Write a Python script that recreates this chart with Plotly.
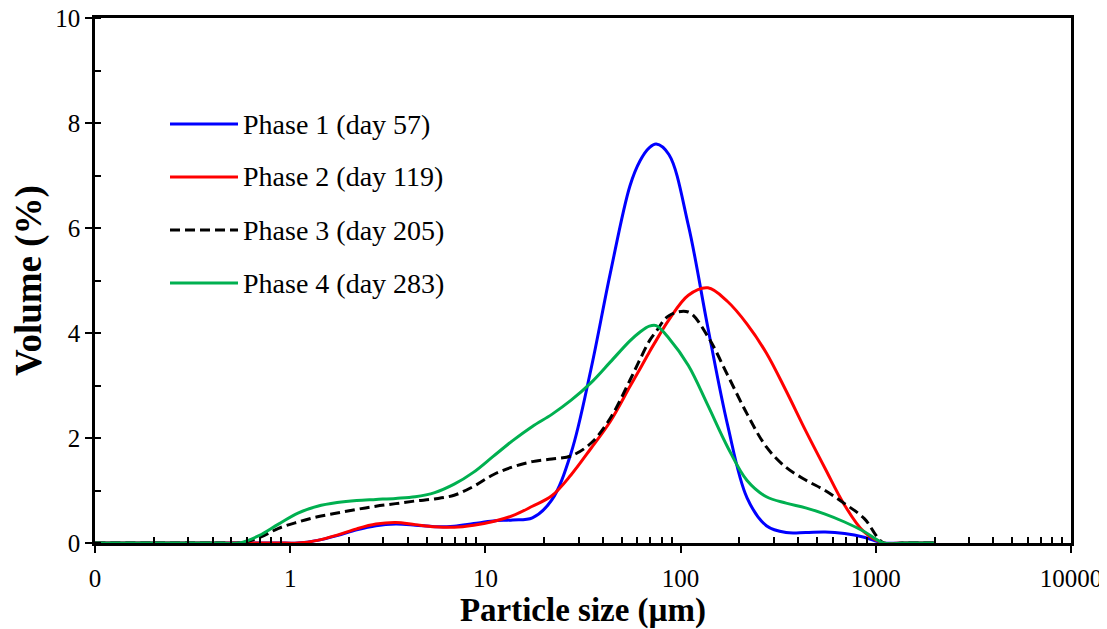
import plotly.graph_objects as go

# ---- data: particle size (µm) shared by all phases, volume (%) per phase ----
size_um = [0.1, 0.2, 0.3, 0.437, 0.55, 0.692, 0.871, 1.096, 1.38, 1.74, 2.19, 2.75, 3.47, 4.37,
           5.5, 6.92, 8.71, 10.96, 13.8, 17.4, 21.9, 27.5, 34.7, 43.7, 55, 62, 69.2, 75, 87.1, 109.6,
           138, 174, 219, 275, 347, 437, 550, 692, 871, 1096, 1380, 1738, 2000]

vol_phase1 = [0, 0, 0, 0, 0, 0, 0, 0, 0.05, 0.14, 0.25, 0.33, 0.36, 0.34,
              0.31, 0.32, 0.37, 0.42, 0.44, 0.48, 0.82, 1.72, 3.30, 5.15, 6.80, 7.28, 7.53, 7.60, 7.40,
              6.05, 4.10, 2.25, 0.86, 0.33, 0.20, 0.20, 0.21, 0.18, 0.11, 0, 0, 0, 0]

vol_phase2 = [0, 0, 0, 0, 0, 0, 0, 0, 0.05, 0.15, 0.27, 0.36, 0.39, 0.35,
              0.31, 0.30, 0.34, 0.41, 0.52, 0.70, 0.90, 1.30, 1.80, 2.32, 2.98, 3.32, 3.64, 3.86, 4.25,
              4.72, 4.86, 4.60, 4.17, 3.62, 2.90, 2.14, 1.42, 0.72, 0.21, 0, 0, 0, 0]

vol_phase3 = [0, 0, 0, 0, 0, 0.10, 0.28, 0.40, 0.50, 0.57, 0.64, 0.70, 0.75, 0.80,
              0.84, 0.91, 1.08, 1.30, 1.45, 1.55, 1.60, 1.66, 1.90, 2.38, 3.10, 3.50, 3.85, 4.03, 4.33,
              4.40, 3.93, 3.20, 2.46, 1.83, 1.44, 1.20, 1.00, 0.75, 0.47, 0, 0, 0, 0]

vol_phase4 = [0, 0, 0, 0, 0, 0.14, 0.36, 0.57, 0.70, 0.77, 0.81, 0.83, 0.85, 0.88,
              0.96, 1.12, 1.35, 1.65, 1.95, 2.22, 2.45, 2.72, 3.05, 3.45, 3.85, 4.02, 4.13, 4.14, 3.90,
              3.38, 2.62, 1.83, 1.19, 0.88, 0.76, 0.67, 0.55, 0.40, 0.22, 0, 0, 0, 0]

series_names = ["Phase 1 (day 57)", "Phase 2 (day 119)", "Phase 3 (day 205)", "Phase 4 (day 283)"]
series_colors = ["#0000FF", "#FF0000", "#000000", "#00B050"]
series_dash = ["solid", "solid", "10px,5px", "solid"]

x_tick_vals = [0.1, 1, 10, 100, 1000, 10000]
x_tick_text = ["0", "1", "10", "100", "1000", "10000"]
y_tick_vals = [0, 2, 4, 6, 8, 10]

FONT = "Liberation Serif, Times New Roman, serif"

fig = go.Figure()
for ys, name, col, dash in zip([vol_phase1, vol_phase2, vol_phase3, vol_phase4],
                               series_names, series_colors, series_dash):
    fig.add_trace(go.Scatter(x=size_um, y=ys, mode="lines", name=name,
                             line=dict(color=col, width=3, dash=dash, shape="spline", smoothing=1.0),
                             showlegend=False))

# page offset from the default body margin of the html page
OFF = 8
W, H = 1107 - OFF, 629 - OFF
L, R, T, B = 95 - OFF, 1071 - OFF, 18 - OFF, 543 - OFF
pw, ph = R - L, B - T

# manual legend (line samples + labels) in paper coordinates
leg_rows = [124 - OFF, 177 - OFF, 230 - OFF, 283 - OFF]
for name, col, dash, py in zip(series_names, series_colors, series_dash, leg_rows):
    yp = (B - py) / ph
    fig.add_shape(type="line", xref="paper", yref="paper",
                  x0=(170 - OFF - L) / pw, x1=(238 - OFF - L) / pw, y0=yp, y1=yp,
                  line=dict(color=col, width=3, dash=dash))
    fig.add_annotation(xref="paper", yref="paper", x=(241 - OFF - L) / pw, y=yp,
                       text=name, showarrow=False, xanchor="left", yanchor="middle",
                       font=dict(family=FONT, size=28, color="black"))

minor_x = [m * 10 ** k for k in range(-1, 4) for m in range(2, 10)]

fig.update_xaxes(type="log", range=[-1, 4], automargin=False,
                 tickmode="array", tickvals=x_tick_vals, ticktext=x_tick_text,
                 ticks="outside", ticklen=7, tickwidth=2, tickcolor="black",
                 ticklabelstandoff=4, ticklabeloverflow="allow",
                 showline=True, linecolor="black", linewidth=2.5, mirror=True,
                 showgrid=False, zeroline=False,
                 tickfont=dict(family=FONT, size=25, color="black"),
                 minor=dict(tickmode="array", tickvals=minor_x, ticks="inside",
                            ticklen=6, tickwidth=2, tickcolor="black", showgrid=False),
                 title=dict(text="<b>Particle size (µm)</b>", standoff=6,
                            font=dict(family=FONT, size=33, color="black")))
fig.update_yaxes(range=[0, 10], automargin=False, tickmode="array", tickvals=y_tick_vals,
                 ticks="outside", ticklen=7, tickwidth=2, tickcolor="black",
                 ticklabeloverflow="allow",
                 showline=True, linecolor="black", linewidth=2.5, mirror=True,
                 showgrid=False, zeroline=False,
                 tickfont=dict(family=FONT, size=25, color="black"),
                 minor=dict(dtick=1, ticks="inside", ticklen=6, tickwidth=2,
                            tickcolor="black", showgrid=False),
                 title=dict(text="<b>Volume (%)</b>", standoff=6,
                            font=dict(family=FONT, size=37, color="black")))

fig.update_layout(width=W, height=H,
                  margin=dict(l=L, r=W - R, t=T, b=H - B),
                  paper_bgcolor="white", plot_bgcolor="white")

fig.write_html("out.html")
